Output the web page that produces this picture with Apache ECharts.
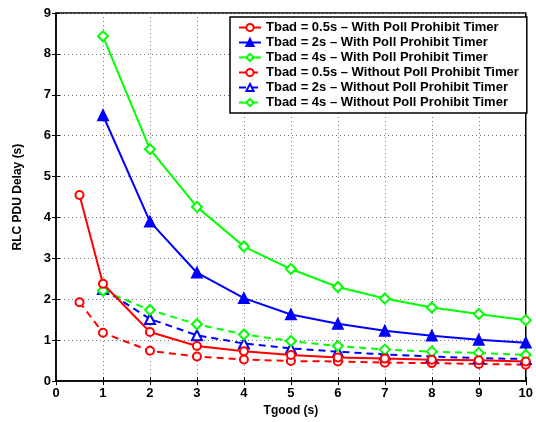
<!DOCTYPE html>
<html><head><meta charset="utf-8">
<script src="https://cdn.jsdelivr.net/npm/echarts@6/dist/echarts.min.js"></script>
<style>html,body{margin:0;padding:0;background:#fff}#c{width:536px;height:422px}</style>
</head><body><div id="c"></div>
<script>
const xHalf = [0.5, 1, 2, 3, 4, 5, 6, 7, 8, 9, 10];
const xOne = [1, 2, 3, 4, 5, 6, 7, 8, 9, 10];
const red05With = [4.55, 2.38, 1.20, 0.86, 0.73, 0.64, 0.58, 0.55, 0.52, 0.51, 0.48];
const blue2With = [6.50, 3.90, 2.65, 2.03, 1.63, 1.40, 1.23, 1.11, 1.01, 0.94];
const green4With = [8.43, 5.67, 4.26, 3.29, 2.74, 2.30, 2.02, 1.80, 1.64, 1.49];
const red05Without = [1.93, 1.18, 0.74, 0.60, 0.53, 0.49, 0.48, 0.45, 0.44, 0.42, 0.40];
const blue2Without = [2.25, 1.52, 1.12, 0.92, 0.80, 0.72, 0.65, 0.60, 0.56, 0.54];
const green4Without = [2.21, 1.74, 1.39, 1.14, 0.98, 0.86, 0.77, 0.72, 0.69, 0.64];
const names = [
  'Tbad = 0.5s \u2013 With Poll Prohibit Timer',
  'Tbad = 2s \u2013 With Poll Prohibit Timer',
  'Tbad = 4s \u2013 With Poll Prohibit Timer',
  'Tbad = 0.5s \u2013 Without Poll Prohibit Timer',
  'Tbad = 2s \u2013 Without Poll Prohibit Timer',
  'Tbad = 4s \u2013 Without Poll Prohibit Timer'
];
const xTicks = [0,1,2,3,4,5,6,7,8,9,10];
const yTicks = [0,1,2,3,4,5,6,7,8,9];

function zip(xs, ys){ return ys.map((v,i)=>[xs[i], v]); }
function mk(name, xs, ys, color, symbol, dashed, size){
  return {
    name, type:'line', data: zip(xs, ys), symbol, symbolSize:size,
    lineStyle:{color, width:2, type: dashed ? [7,5] : 'solid'},
    itemStyle:{color, borderColor:color, borderWidth:1.8},
    emphasis:{disabled:true}, z: dashed ? 2 : 3
  };
}
const font = 'Liberation Sans, Arial, sans-serif';
const chart = echarts.init(document.getElementById('c'), null, {renderer:'canvas'});
chart.setOption({
  animation:false,
  backgroundColor:'#fff',
  grid:{left:56, right:6, top:13, bottom:36, show:true, borderColor:'#000', borderWidth:1.5},
  legend:{
    orient:'vertical', left:230, top:17, padding:[4,8,4,8],
    backgroundColor:'#fff', borderColor:'#000', borderWidth:1.5,
    itemWidth:22, itemHeight:9, itemGap:2,
    textStyle:{fontFamily:font, fontWeight:'bold', fontSize:13, color:'#000'},
    data: names
  },
  xAxis:[{
    type:'value', min:0, max:10, interval:1, position:'bottom',
    name:'Tgood (s)', nameLocation:'middle', nameGap:23,
    nameTextStyle:{fontFamily:font, fontWeight:'bold', fontSize:12, color:'#000'},
    axisLine:{lineStyle:{color:'#000', width:1.5}},
    axisTick:{inside:true, length:4, lineStyle:{color:'#000'}},
    axisLabel:{fontFamily:font, fontWeight:'bold', fontSize:13, color:'#000', margin:6,
      formatter:v=>xTicks.includes(v)?String(v):''},
    splitLine:{show:true, lineStyle:{color:'#777', type:[1,3], width:1}}
  },{
    type:'value', min:0, max:10, interval:1, position:'top',
    axisLine:{show:false}, axisLabel:{show:false}, splitLine:{show:false},
    axisTick:{inside:true, length:4, lineStyle:{color:'#000'}}
  }],
  yAxis:[{
    type:'value', min:0, max:9, interval:1,
    name:'RLC PDU Delay (s)', nameLocation:'middle', nameGap:32,
    nameTextStyle:{fontFamily:font, fontWeight:'bold', fontSize:12, color:'#000'},
    axisLine:{show:true, lineStyle:{color:'#000', width:1.5}},
    axisTick:{show:true, inside:true, length:4, lineStyle:{color:'#000'}},
    axisLabel:{fontFamily:font, fontWeight:'bold', fontSize:13, color:'#000', margin:5,
      formatter:v=>yTicks.includes(v)?String(v):''},
    splitLine:{show:true, lineStyle:{color:'#777', type:[1,3], width:1}}
  },{
    type:'value', min:0, max:9, interval:1, position:'right',
    axisLine:{show:false}, axisLabel:{show:false}, splitLine:{show:false},
    axisTick:{show:true, inside:true, length:4, lineStyle:{color:'#000'}}
  }],
  series:[
    mk(names[0], xHalf, red05With, '#ff0000', 'emptyCircle', false, 8),
    mk(names[1], xOne, blue2With, '#0000ff', 'triangle', false, 10),
    mk(names[2], xOne, green4With, '#00ff00', 'emptyDiamond', false, 10),
    mk(names[3], xHalf, red05Without, '#ff0000', 'emptyCircle', true, 8),
    mk(names[4], xOne, blue2Without, '#0000ff', 'emptyTriangle', true, 10),
    mk(names[5], xOne, green4Without, '#00ff00', 'emptyDiamond', true, 10)
  ]
});
</script></body></html>
